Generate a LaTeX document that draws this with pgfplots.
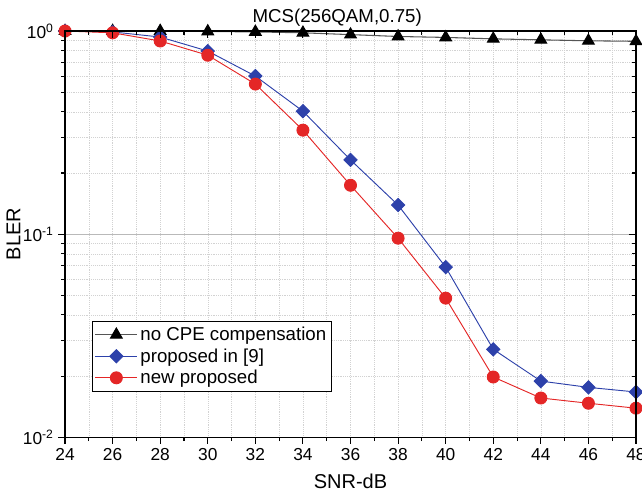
\documentclass[border=0pt]{standalone}
\usepackage{fontspec}
\setmainfont{Liberation Sans}
\usepackage{pgfplots}
\pgfplotsset{compat=1.18}
\definecolor{blueline}{RGB}{45,65,170}
\definecolor{redline}{RGB}{228,38,38}
\definecolor{grayline}{RGB}{85,85,85}
\begin{document}
\begin{tikzpicture}
\begin{semilogyaxis}[
  scale only axis,
  width=428pt, height=304.5pt,
  xmin=24, xmax=48, ymin=0.01, ymax=1,
  xtick={24,26,...,48},
  minor x tick num=1,
  ytick={0.01,0.1,1},
  major tick length=5pt, minor tick length=3pt,
  axis line style={line width=0.9pt},
  tick style={line width=0.8pt, black},
  yticklabels={10\textsuperscript{-2},10\textsuperscript{-1},10\textsuperscript{0}},
  tick pos=left, tick align=outside,
  grid=both,
  major grid style={gray!35, densely dotted},
  minor grid style={gray!35, densely dotted},
  /pgf/number format/assume math mode=true,
  tick label style={font=\fontsize{13}{15}\selectfont},
  xlabel={SNR-dB}, ylabel={BLER},
  label style={font=\fontsize{15}{17}\selectfont},
  xlabel style={yshift=-3pt},
  ylabel style={yshift=-5pt},
  title={MCS(256QAM,0.75)},
  title style={font=\fontsize{14}{16}\selectfont, yshift=-6pt, xshift=-10pt},
  legend style={at={(0.047,0.113)}, anchor=south west, draw=black, line width=0.6pt,
    font=\fontsize{14}{16}\selectfont, row sep=0.5pt, inner sep=2pt},
  legend cell align=left,
  legend image code/.code={
    \draw[mark repeat=2, mark phase=2, #1] plot coordinates {(0cm,0cm) (0.55cm,0cm) (1.1cm,0cm)};},
]
\draw[gray!55, line width=0.5pt] (axis cs:24,0.1) -- (axis cs:48,0.1);
\addplot[grayline, line width=0.8pt, mark=triangle*, mark size=5pt,
  mark options={fill=black, draw=black}] coordinates {
  (24,1.0) (26,1.0) (28,1.0) (30,0.995) (32,0.99) (34,0.98) (36,0.96)
  (38,0.94) (40,0.93) (42,0.915) (44,0.905) (46,0.895) (48,0.89)};
\addlegendentry{no CPE compensation}
\addplot[blueline, line width=0.7pt, mark=square*, mark size=3.5pt,
  mark options={fill=blueline, rotate=45}] coordinates {
  (24,1.0) (26,0.99) (28,0.934) (30,0.797) (32,0.60) (34,0.403) (36,0.232)
  (38,0.139) (40,0.0688) (42,0.0271) (44,0.0189) (46,0.0176) (48,0.0167)};
\addlegendentry{proposed in [9]}
\addplot[redline, line width=0.7pt, mark=*, mark size=4.5pt,
  mark options={fill=redline}] coordinates {
  (24,1.0) (26,0.98) (28,0.893) (30,0.76) (32,0.548) (34,0.325) (36,0.174)
  (38,0.0955) (40,0.0484) (42,0.0198) (44,0.0156) (46,0.0147) (48,0.0139)};
\addlegendentry{new proposed}
\end{semilogyaxis}
\begin{semilogyaxis}[
  scale only axis,
  width=428pt, height=304.5pt,
  xmin=24, xmax=48, ymin=0.01, ymax=1,
  xtick={24,26,...,48},
  minor x tick num=1,
  ytick={0.01,0.1,1},
  major tick length=5pt, minor tick length=3pt,
  axis line style={line width=0.9pt},
  tick style={line width=0.8pt, black},
  xticklabels={}, yticklabels={},
  tick pos=right, tick align=inside,
]
\end{semilogyaxis}
\pgfresetboundingbox
\path[use as bounding box] ([xshift=-48.75pt,yshift=-44.25pt]current axis.south west)
  rectangle ([xshift=4.5pt,yshift=23.25pt]current axis.north east);
\end{tikzpicture}
\end{document}
